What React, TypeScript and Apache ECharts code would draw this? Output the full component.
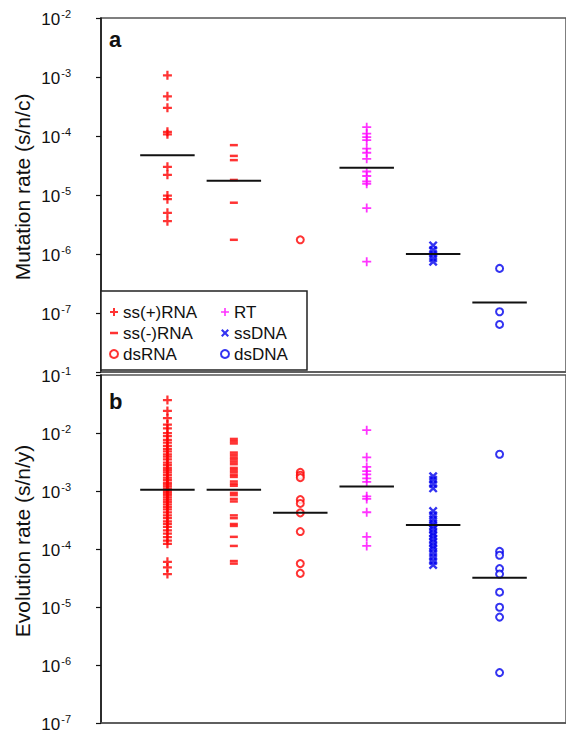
import React, { useEffect, useRef } from "react";
import * as echarts from "echarts";

// Categories (x positions 1..6)
const categories = ["ss(+)RNA", "ss(-)RNA", "dsRNA", "RT", "ssDNA", "dsDNA"];

// Panel a: mutation rate (s/n/c)
const mutSsPlus = [1.07e-3, 4.7e-4, 3.0e-4, 1.18e-4, 1.07e-4, 3.0e-5, 2.2e-5, 9.8e-6, 8.5e-6, 5.0e-6, 3.6e-6];
const mutSsMinus = [7.0e-5, 4.6e-5, 3.9e-5, 1.8e-5, 7.4e-6, 1.74e-6];
const mutDsRNA = [1.74e-6];
const mutRT = [1.41e-4, 1.1e-4, 9.6e-5, 8.5e-5, 6.1e-5, 5.2e-5, 4.1e-5, 2.5e-5, 2.1e-5, 1.7e-5, 1.55e-5, 6.0e-6, 7.4e-7];
const mutSsDNA = [1.4e-6, 1.17e-6, 1.0e-6, 8.5e-7, 7.4e-7];
const mutDsDNA = [5.7e-7, 1.05e-7, 6.4e-8];
const mutMedians = [4.7e-5, 1.75e-5, null, 2.9e-5, 1.0e-6, 1.5e-7];

// Panel b: evolution rate (s/n/y)
const evoSsPlus = [
  3.7e-2, 2.4e-2, 1.8e-2, 1.4e-2, 1.2e-2, 1.0e-2, 8.8e-3, 7.6e-3, 6.8e-3, 6.0e-3,
  5.3e-3, 4.8e-3, 4.3e-3, 3.9e-3, 3.5e-3, 3.1e-3, 2.8e-3, 2.5e-3, 2.3e-3, 2.1e-3,
  1.9e-3, 1.7e-3, 1.55e-3, 1.4e-3, 1.3e-3, 1.2e-3, 1.1e-3, 1.0e-3, 9.2e-4, 8.5e-4,
  7.8e-4, 7.1e-4, 6.5e-4, 5.9e-4, 5.3e-4, 4.8e-4, 4.3e-4, 3.8e-4, 3.4e-4, 3.0e-4,
  2.7e-4, 2.4e-4, 2.1e-4, 1.85e-4, 1.6e-4, 1.4e-4, 1.23e-4, 6.0e-5, 4.8e-5, 3.7e-5,
];
const evoSsMinus = [
  7.9e-3, 7.2e-3, 6.6e-3, 4.6e-3, 4.2e-3, 3.8e-3, 3.5e-3, 3.2e-3, 2.9e-3, 2.5e-3,
  2.3e-3, 2.1e-3, 1.9e-3, 1.75e-3, 1.46e-3, 1.33e-3, 1.23e-3, 9.3e-4, 8.5e-4, 7.3e-4,
  6.6e-4, 3.8e-4, 3.4e-4, 2.7e-4, 2.5e-4, 1.62e-4, 1.13e-4, 6.2e-5, 5.6e-5,
];
const evoDsRNA = [2.1e-3, 1.87e-3, 1.7e-3, 7.1e-4, 6.1e-4, 4.2e-4, 2.0e-4, 5.6e-5, 3.8e-5];
const evoRT = [1.12e-2, 3.8e-3, 2.6e-3, 2.2e-3, 1.94e-3, 1.65e-3, 1.44e-3, 8.1e-4, 7.3e-4, 4.3e-4, 1.62e-4, 1.13e-4];
const evoSsDNA = [
  1.8e-3, 1.56e-3, 1.32e-3, 1.11e-3, 4.5e-4, 3.8e-4, 3.25e-4, 2.8e-4, 2.5e-4, 2.2e-4,
  1.9e-4, 1.7e-4, 1.48e-4, 1.3e-4, 1.13e-4, 1.0e-4, 8.5e-5, 7.3e-5, 6.2e-5, 5.3e-5,
];
const evoDsDNA = [4.3e-3, 9.1e-5, 7.8e-5, 4.6e-5, 3.7e-5, 1.8e-5, 9.9e-6, 6.7e-6, 7.4e-7];
const evoMedians = [1.05e-3, 1.05e-3, 4.2e-4, 1.2e-3, 2.6e-4, 3.2e-5];

const mutData = [mutSsPlus, mutSsMinus, mutDsRNA, mutRT, mutSsDNA, mutDsDNA];
const evoData = [evoSsPlus, evoSsMinus, evoDsRNA, evoRT, evoSsDNA, evoDsDNA];

const FONT = "'Liberation Sans', Arial, Helvetica, sans-serif";
const RED = "#ff0000";
const MAGENTA = "#ff00ff";
const BLUE = "#0000ee";

const PLUS = "path://M3,0H5V3H8V5H5V8H3V5H0V3H3Z";
const PLUS_THIN = "path://M3.2,0H4.8V3.2H8V4.8H4.8V8H3.2V4.8H0V3.2H3.2Z";
const MINUS = "path://M0,0H8V2.5H0Z";
const CROSS = "path://M0,1.5L1.5,0L4,2.5L6.5,0L8,1.5L5.5,4L8,6.5L6.5,8L4,5.5L1.5,8L0,6.5L2.5,4Z";

const styles: any[] = [
  { symbol: PLUS, symbolSize: 9, color: RED },
  { symbol: MINUS, symbolSize: [8, 2.5], color: RED },
  { symbol: "emptyCircle", symbolSize: 7, color: RED, borderWidth: 2 },
  { symbol: PLUS_THIN, symbolSize: 9, color: MAGENTA },
  { symbol: CROSS, symbolSize: 9, color: BLUE },
  { symbol: "emptyCircle", symbolSize: 7, color: BLUE, borderWidth: 2 },
];

function supLabel(v: number, hideExp?: number) {
  const e = Math.round(Math.log10(v));
  if (hideExp !== undefined && e === hideExp) return "";
  return "{b|10}{s|" + e + "}";
}

const labelRich = {
  b: { fontSize: 17, fontFamily: FONT, color: "#111", lineHeight: 20, verticalAlign: "bottom" },
  s: { fontSize: 11, fontFamily: FONT, color: "#111", lineHeight: 11, verticalAlign: "top", padding: [0, 0, 0, 1] },
};

function makeYAxis(gridIndex: number, min: number, max: number, hideExp?: number) {
  return {
    type: "log",
    logBase: 10,
    gridIndex,
    min,
    max,
    axisLine: { show: true, lineStyle: { color: "#111", width: 1.5 } },
    axisTick: { show: true, inside: false, length: 5, lineStyle: { color: "#111", width: 1.2 } },
    minorTick: { show: false },
    splitLine: { show: false },
    axisLabel: {
      margin: 30,
      formatter: (v: number) => supLabel(v, hideExp),
      rich: labelRich,
    },
  };
}

function makeXAxis(gridIndex: number) {
  return {
    type: "value",
    gridIndex,
    min: 0,
    max: 7,
    axisLine: { show: true, onZero: false, lineStyle: { color: "#555", width: 1.5 } },
    axisTick: { show: false },
    axisLabel: { show: false },
    splitLine: { show: false },
  };
}

function buildSeries(panel: number, data: number[][], medians: (number | null)[]) {
  const out: any[] = [];
  data.forEach((vals, i) => {
    const st = styles[i];
    out.push({
      type: "scatter",
      name: categories[i],
      xAxisIndex: panel,
      yAxisIndex: panel,
      symbol: st.symbol,
      symbolSize: st.symbolSize,
      itemStyle: st.borderWidth
        ? { color: st.color, borderColor: st.color, borderWidth: st.borderWidth }
        : { color: st.color },
      z: 2,
      data: vals.map((v) => [i + 1, v]),
    });
  });
  out.push({
    type: "custom",
    name: "median" + panel,
    xAxisIndex: panel,
    yAxisIndex: panel,
    silent: true,
    z: 3,
    data: medians
      .map((v, i) => (v == null ? null : [i + 1, v]))
      .filter((d) => d !== null),
    renderItem: (_params: any, api: any) => {
      const x = api.value(0);
      const y = api.value(1);
      const a = api.coord([x - 0.41, y]);
      const b = api.coord([x + 0.41, y]);
      return {
        type: "line",
        shape: { x1: a[0], y1: a[1], x2: b[0], y2: b[1] },
        style: { stroke: "#111", lineWidth: 2 },
      };
    },
  });
  return out;
}

export default function App() {
  const ref = useRef<HTMLDivElement>(null);

  useEffect(() => {
    if (!ref.current) return;
    const chart = echarts.init(ref.current, undefined, { renderer: "svg" });
    const legendText = { fontSize: 17, fontFamily: FONT, color: "#111", lineHeight: 20 };
    const legendBase = {
      orient: "vertical",
      top: 302,
      itemWidth: 8,
      itemHeight: 8,
      itemGap: 1,
      padding: 0,
      selectedMode: false,
      textStyle: legendText,
      z: 10,
    };
    const option: any = {
      animation: false,
      backgroundColor: "#fff",
      textStyle: { fontFamily: FONT },
      grid: [
        { left: 101, top: 18, width: 469, height: 354, show: true, borderColor: "#555", borderWidth: 1.5, backgroundColor: "transparent" },
        { left: 101, top: 375, width: 469, height: 351, show: true, borderColor: "#555", borderWidth: 1.5, backgroundColor: "transparent" },
      ],
      xAxis: [makeXAxis(0), makeXAxis(1)],
      yAxis: [makeYAxis(0, 1e-8, 1e-2, -8), makeYAxis(1, 1e-7, 1e-1)],
      legend: [
        { ...legendBase, data: categories.slice(0, 3), left: 109 },
        { ...legendBase, data: categories.slice(3, 6), left: 220 },
      ],
      graphic: [
        {
          type: "rect",
          z: 5,
          shape: { x: 101, y: 291, width: 206, height: 79 },
          style: { fill: "#fff", stroke: "#222", lineWidth: 1.5 },
        },
        {
          type: "text",
          x: 22,
          y: 187,
          rotation: Math.PI / 2,
          style: {
            text: "Mutation rate (s/n/c)",
            font: "21px " + FONT,
            fill: "#111",
            textAlign: "center",
            textVerticalAlign: "middle",
          },
        },
        {
          type: "text",
          x: 22,
          y: 541,
          rotation: Math.PI / 2,
          style: {
            text: "Evolution rate (s/n/y)",
            font: "21px " + FONT,
            fill: "#111",
            textAlign: "center",
            textVerticalAlign: "middle",
          },
        },
        {
          type: "text",
          x: 109,
          y: 28,
          style: { text: "a", font: "bold 22px " + FONT, fill: "#111" },
        },
        {
          type: "text",
          x: 109,
          y: 390,
          style: { text: "b", font: "bold 22px " + FONT, fill: "#111" },
        },
      ],
      series: [...buildSeries(0, mutData, mutMedians), ...buildSeries(1, evoData, evoMedians)],
    };
    chart.setOption(option);
    return () => chart.dispose();
  }, []);

  return (
    <div
      ref={ref}
      style={{ position: "fixed", left: 0, top: 0, width: 566, height: 733, background: "#fff" }}
    />
  );
}
